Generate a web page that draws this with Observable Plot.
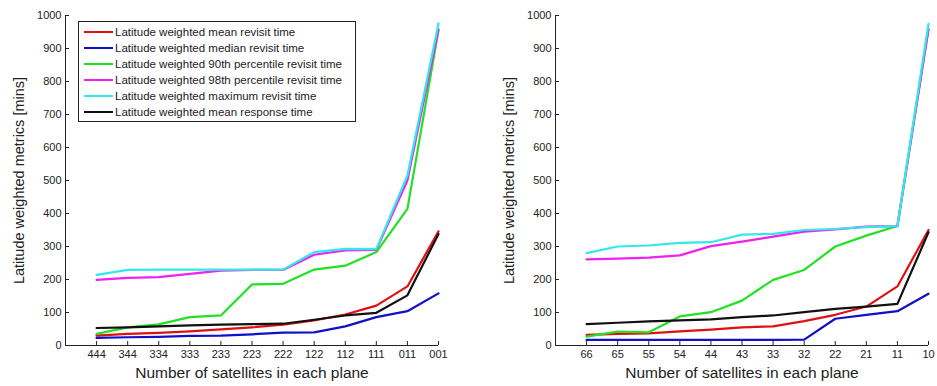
<!DOCTYPE html>
<html><head><meta charset="utf-8">
<script src="https://cdn.jsdelivr.net/npm/d3@7"></script>
<script src="https://cdn.jsdelivr.net/npm/@observablehq/plot@0.6"></script>
<style>
body{margin:0;background:#fff;font-family:Arial,"Liberation Sans",sans-serif}
#wrap{position:relative;width:937px;height:386px;overflow:hidden}
#wrap svg{position:absolute;top:0}
#legend{position:absolute;left:78px;top:21px;width:276px;height:97px;border:1px solid #222;background:#fff;font-size:11.5px;color:#222;padding-top:2px}
#legend .row{height:16px;display:flex;align-items:center;white-space:nowrap}
#legend .sw{width:29px;height:2px;margin-left:5px;margin-right:2px}
</style></head>
<body><div id="wrap"></div>
<script>
const leftCats = ["444","344","334","333","233","223","222","122","112","111","011","001"];
const rightCats = ["66","65","55","54","44","43","33","32","22","21","11","10"];
const seriesNames = [
  "Latitude weighted mean revisit time",
  "Latitude weighted median revisit time",
  "Latitude weighted 90th percentile revisit time",
  "Latitude weighted 98th percentile revisit time",
  "Latitude weighted maximum revisit time",
  "Latitude weighted mean response time"
];
const seriesColors = ["#e01010","#1010c8","#22e022","#f020f0","#33e8e8","#111111"];
const yTicks = [0,100,200,300,400,500,600,700,800,900,1000];
const xTitle = "Number of satellites in each plane";
const yTitle = "Latitude weighted metrics [mins]";

// Left chart values
const leftMean     = [30,35,38,43,49,55,63,76,94,121,179,346];
const leftMedian   = [23,25,26,29,30,34,39,40,58,86,104,158];
const left90       = [35,55,64,86,91,185,187,230,242,283,414,955];
const left98       = [199,205,207,217,227,229,229,275,288,290,500,958];
const leftMax      = [214,229,230,230,230,230,230,283,293,292,515,976];
const leftResponse = [53,55,58,61,63,65,66,78,91,99,152,338];

// Right chart values
const rightMean     = [32,35,37,43,48,55,58,74,93,118,179,350];
const rightMedian   = [17,17,17,17,17,17,17,18,81,93,104,157];
const right90       = [27,42,40,88,101,136,199,229,300,333,362,960];
const right98       = [261,263,266,273,301,315,330,345,352,360,362,958];
const rightMax      = [280,300,303,311,313,336,338,350,353,359,362,975];
const rightResponse = [65,69,73,76,79,86,91,101,111,118,126,343];

function rows(series){
  const out = [];
  series.forEach((vals, si) => vals.forEach((v, i) => out.push({x: i + 1, y: v, s: seriesNames[si]})));
  return out;
}

function makePlot(cats, series, width, marginLeft, marginRight){
  const data = rows(series);
  const idx = cats.map((c, i) => i + 1);
  return Plot.plot({
    width, height: 386,
    marginLeft, marginRight, marginTop: 15, marginBottom: 41,
    style: {fontFamily: "Arial, 'Liberation Sans', sans-serif", fontSize: "11px", color: "#222", background: "transparent"},
    x: {type: "linear", domain: [0, 12]},
    y: {domain: [0, 1000]},
    color: {domain: seriesNames, range: seriesColors},
    marks: [
      Plot.ruleX([0], {stroke: "#222"}),
      Plot.ruleY([0], {stroke: "#222"}),
      // inward tick marks
      Plot.axisY(yTicks, {tickSize: 4, dx: 4, tickFormat: () => "", label: null, stroke: "#222"}),
      Plot.axisX(idx, {tickSize: 4, dy: -4, tickFormat: () => "", label: null, stroke: "#222"}),
      // tick labels
      Plot.axisY(yTicks, {tickSize: 0, tickPadding: 4, tickFormat: d => String(d), label: null, fill: "#222"}),
      Plot.axisX(idx, {tickSize: 0, tickPadding: 5, tickFormat: i => cats[i - 1], label: null, fill: "#222"}),
      // axis titles
      Plot.text([yTitle], {frameAnchor: "left", dx: -46, rotate: -90, textAnchor: "middle", lineAnchor: "middle", fontSize: 14.5, fill: "#222"}),
      Plot.text([xTitle], {frameAnchor: "bottom", dy: 28, textAnchor: "middle", lineAnchor: "middle", fontSize: 15.5, fill: "#222"}),
      Plot.line(data, {x: "x", y: "y", z: "s", stroke: "s", strokeWidth: 2.2})
    ]
  });
}

const wrap = document.getElementById("wrap");
const left = makePlot(leftCats, [leftMean, leftMedian, left90, left98, leftMax, leftResponse], 468, 65, 30);
left.style.left = "0px";
const right = makePlot(rightCats, [rightMean, rightMedian, right90, right98, rightMax, rightResponse], 469, 87, 9);
right.style.left = "468px";
wrap.appendChild(left);
wrap.appendChild(right);

const legend = document.createElement("div");
legend.id = "legend";
seriesNames.forEach((n, i) => {
  const r = document.createElement("div");
  r.className = "row";
  const sw = document.createElement("span");
  sw.className = "sw";
  sw.style.background = seriesColors[i];
  const t = document.createElement("span");
  t.textContent = n;
  r.appendChild(sw); r.appendChild(t);
  legend.appendChild(r);
});
wrap.appendChild(legend);
</script>
</body></html>
